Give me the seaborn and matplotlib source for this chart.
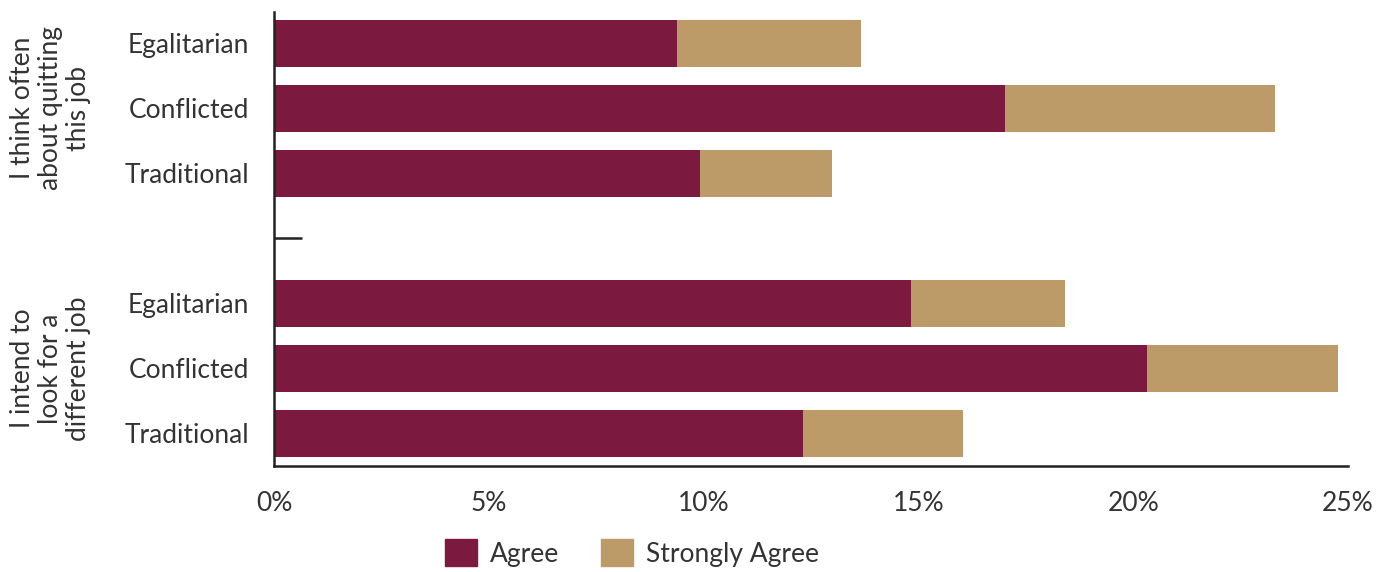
import matplotlib
matplotlib.use("Agg")
import matplotlib.pyplot as plt
import seaborn as sns
import pandas as pd
from matplotlib.patches import Patch

groups = ["I think often\nabout quitting\nthis job", "I intend to\nlook for a\ndifferent job"]
categories = ["Egalitarian", "Conflicted", "Traditional"]
agree = [[9.38, 17.02, 9.92], [14.83, 20.32, 12.31]]
strongly_agree = [[4.28, 6.28, 3.07], [3.58, 4.45, 3.73]]

AGREE_C = "#7B1A3E"
STRONG_C = "#BD9B69"
TEXT_C = "#333333"

rows = []
for gi, g in enumerate(groups):
    for ci, c in enumerate(categories):
        rows.append({"key": f"{gi}-{c}", "cat": c, "agree": agree[gi][ci],
                     "total": agree[gi][ci] + strongly_agree[gi][ci]})
df = pd.DataFrame(rows)
order = [f"0-{c}" for c in categories] + ["gap"] + [f"1-{c}" for c in categories]

sns.set_theme(style="white")
plt.rcParams["font.family"] = ["Lato", "DejaVu Sans"]
plt.rcParams["text.color"] = TEXT_C

FS = 19

fig = plt.figure(figsize=(13.86, 5.72), dpi=100)
ax = fig.add_axes([274/1386, 1 - 466/572, (1348-274)/1386, (466-12)/572])

sns.barplot(data=df, x="total", y="key", order=order, orient="h", color=STRONG_C,
            saturation=1, width=0.72, ax=ax, linewidth=0)
sns.barplot(data=df, x="agree", y="key", order=order, orient="h", color=AGREE_C,
            saturation=1, width=0.72, ax=ax, linewidth=0)

ax.set_xlim(0, 25)
ax.set_ylim(6.5, -0.48)
ax.set_xlabel("")
ax.set_ylabel("")

ypos = [0, 1, 2, 4, 5, 6]
ax.set_yticks(ypos)
ax.set_yticklabels(categories + categories, fontsize=FS, color=TEXT_C)
ax.set_yticks([3], minor=True)
ax.tick_params(axis="y", which="major", length=0, pad=18)
ax.tick_params(axis="y", which="minor", length=20, width=1.8, direction="in",
               color="#222222", left=True, right=False)

xt = [0, 5, 10, 15, 20, 25]
ax.set_xticks(xt)
ax.set_xticklabels([f"{v}%" for v in xt], fontsize=FS, color=TEXT_C)
ax.tick_params(axis="x", length=8, width=1.8, direction="in", color="#222222", pad=18)

for s in ["top", "right"]:
    ax.spines[s].set_visible(False)
for s in ["left", "bottom"]:
    ax.spines[s].set_linewidth(1.8)
    ax.spines[s].set_color("#222222")

# group labels
for gi, g in enumerate(groups):
    yc = 1 if gi == 0 else 5
    ax.text(-0.208, yc, g, transform=ax.get_yaxis_transform(), rotation=90,
            ha="center", va="center", fontsize=FS, color=TEXT_C, linespacing=1.15)

handles = [Patch(color=AGREE_C, label="Agree"), Patch(color=STRONG_C, label="Strongly Agree")]
fig.legend(handles=handles, loc="center", bbox_to_anchor=(632/1386, 1 - 553/572), ncol=2,
           frameon=False, prop={"size": FS}, handlelength=1.2,
           handleheight=1.2, columnspacing=1.6, handletextpad=0.5)

fig.savefig("out.png", dpi=100)
